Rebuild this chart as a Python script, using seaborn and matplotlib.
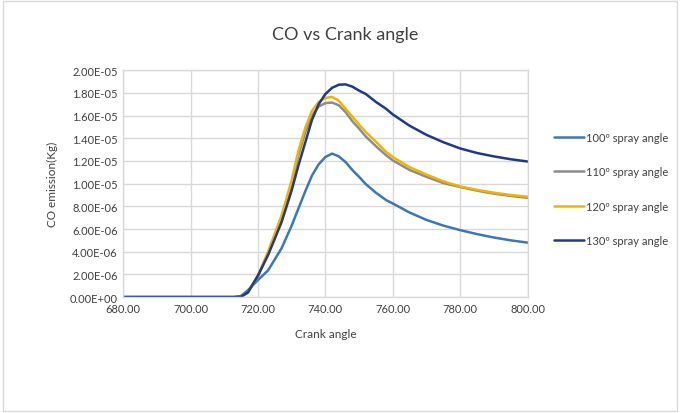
import numpy as np
import pandas as pd
import matplotlib
matplotlib.use("Agg")
import matplotlib.pyplot as plt
import seaborn as sns
from matplotlib.ticker import FormatStrFormatter, FuncFormatter

# crank angle (deg) and CO emission values (in 1e-6 kg)
crank = [680, 700, 710, 713, 715, 717, 720, 723, 727, 730, 732, 734, 736, 738,
         740, 742, 744, 746, 748, 750, 752, 755, 758, 760, 765, 770, 775, 780,
         785, 790, 795, 800]
co_100 = [0, 0, 0, 0, 0.1, 0.6, 1.5, 2.35, 4.3, 6.3, 7.8, 9.3, 10.7, 11.7,
          12.35, 12.65, 12.4, 11.9, 11.2, 10.6, 9.95, 9.2, 8.55, 8.25, 7.45, 6.8,
          6.3, 5.9, 5.55, 5.25, 5.0, 4.8]
co_110 = [0, 0, 0, 0, 0.05, 0.4, 1.8, 3.9, 7.0, 10.0, 12.5, 14.5, 16.0, 16.8,
          17.1, 17.15, 16.9, 16.3, 15.5, 14.85, 14.15, 13.3, 12.5, 12.05, 11.2,
          10.6, 10.05, 9.7, 9.38, 9.12, 8.92, 8.75]
co_120 = [0, 0, 0, 0, 0.05, 0.4, 1.9, 4.0, 7.2, 10.3, 12.9, 14.9, 16.4, 17.2,
          17.55, 17.65, 17.3, 16.6, 15.9, 15.2, 14.55, 13.7, 12.8, 12.35, 11.45,
          10.8, 10.2, 9.75, 9.45, 9.2, 9.0, 8.85]
co_130 = [0, 0, 0, 0, 0.05, 0.4, 1.9, 3.7, 6.6, 9.4, 11.6, 13.6, 15.6, 17.0,
          17.9, 18.45, 18.72, 18.75, 18.55, 18.2, 17.9, 17.2, 16.6, 16.1, 15.1,
          14.3, 13.65, 13.1, 12.7, 12.4, 12.15, 11.95]

labels = ["100º spray angle", "110º spray angle", "120º spray angle", "130º spray angle"]
colors = ["#3C78B4", "#8C8C8C", "#F0B400", "#1F3A8A"]

frames = []
for lab, vals in zip(labels, [co_100, co_110, co_120, co_130]):
    frames.append(pd.DataFrame({"crank": crank, "co": np.array(vals) * 1e-6, "series": lab}))
df = pd.concat(frames)

sns.set_style("whitegrid")
plt.rcParams['font.family'] = ['Lato', 'DejaVu Sans']

fig = plt.figure(figsize=(6.8, 4.14), dpi=100)
ax = fig.add_axes([0.181, 0.280, 0.595, 0.548])

sns.lineplot(data=df, x="crank", y="co", hue="series", palette=colors,
             linewidth=1.8, ax=ax, legend=True, solid_joinstyle="round")

ax.set_xlim(680, 800)
ax.set_ylim(0, 2e-5)
ax.set_xticks(np.arange(680, 801, 20))
ax.set_yticks(np.arange(0, 2.01e-5, 2e-6))
ax.xaxis.set_major_formatter(FormatStrFormatter("%.2f"))
ax.yaxis.set_major_formatter(FuncFormatter(lambda v, p: "%.2E" % v))
ax.tick_params(axis="both", labelsize=8, colors="#404040", length=0, pad=4)
ax.grid(True, color="#D9D9D9", linewidth=1)
for s in ax.spines.values():
    s.set_color("#D9D9D9")
    s.set_linewidth(1)

ax.set_xlabel("Crank angle", fontsize=8.5, color="#404040", labelpad=10)
ax.set_ylabel("CO emission(Kg)", fontsize=8.5, color="#404040", labelpad=8)
fig.text(0.507, 0.915, "CO vs Crank angle", fontsize=13, color="#404040",
         ha="center", va="center")

handles, labs = ax.get_legend_handles_labels()
ax.get_legend().remove()
fig.legend(handles, labs, loc="center left", bbox_to_anchor=(0.80, 0.541),
           frameon=False, fontsize=8, labelspacing=2.1, handlelength=2.7,
           handletextpad=0.2, labelcolor="#404040")

fig.patches.append(plt.Rectangle((0.004, 0.004), 0.992, 0.992, transform=fig.transFigure,
                                 fill=False, edgecolor="#D9D9D9", linewidth=1))

fig.savefig("out.png", dpi=100)
